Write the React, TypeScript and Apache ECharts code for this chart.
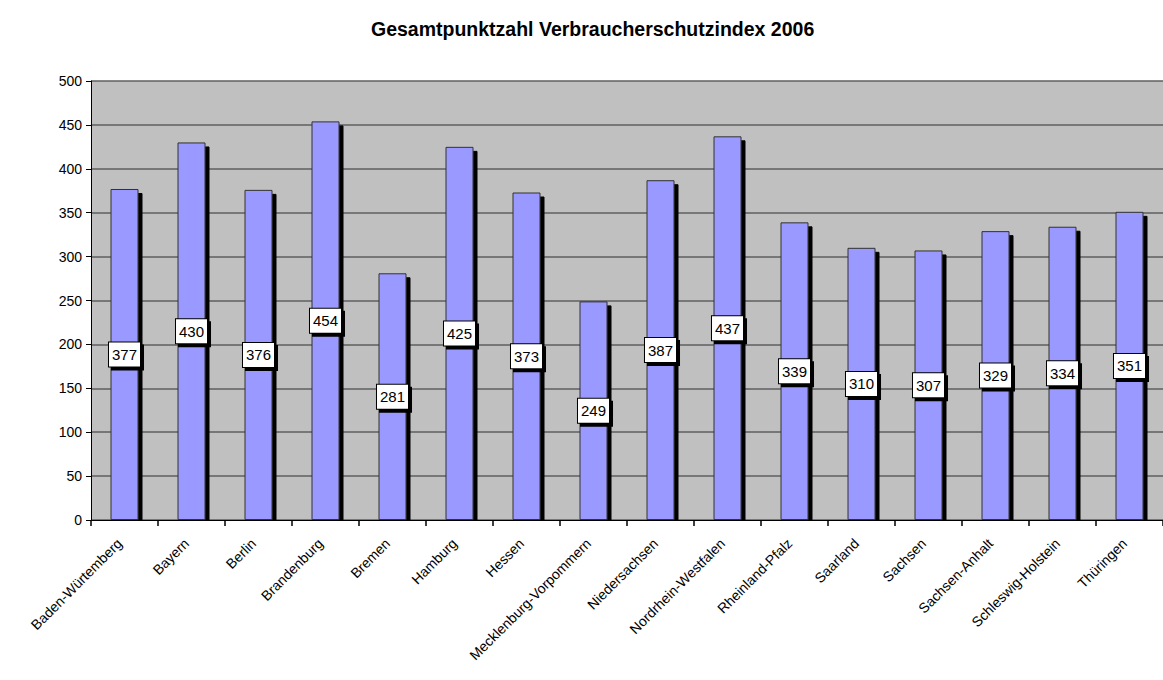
import React, { useEffect, useRef } from "react";
import * as echarts from "echarts";

const categories = [
  "Baden-Würtemberg",
  "Bayern",
  "Berlin",
  "Brandenburg",
  "Bremen",
  "Hamburg",
  "Hessen",
  "Mecklenburg-Vorpommern",
  "Niedersachsen",
  "Nordrhein-Westfalen",
  "Rheinland-Pfalz",
  "Saarland",
  "Sachsen",
  "Sachsen-Anhalt",
  "Schleswig-Holstein",
  "Thüringen",
];
const values = [377, 430, 376, 454, 281, 425, 373, 249, 387, 437, 339, 310, 307, 329, 334, 351];
const titleText = "Gesamtpunktzahl Verbraucherschutzindex 2006";

const FONT = "'Liberation Sans', Arial, sans-serif";

export default function App() {
  const ref = useRef<HTMLDivElement>(null);
  useEffect(() => {
    if (!ref.current) return;
    const chart = echarts.init(ref.current, null, { renderer: "svg" });
    chart.setOption({
      animation: false,
      backgroundColor: "#ffffff",
      title: {
        text: titleText,
        left: 366,
        top: 14,
        textStyle: { fontFamily: FONT, fontSize: 19.5, fontWeight: "bold", color: "#000" },
      },
      grid: { left: 91, top: 81, bottom: 160, right: -10, backgroundColor: "#C0C0C0", show: true, borderWidth: 0 },
      graphic: [
        {
          type: "rect",
          z: 5,
          silent: true,
          shape: { x: 92, y: 520.5, width: 1080, height: 4.5 },
          style: { fill: "#ffffff" },
        },
      ],
      xAxis: {
        type: "category",
        data: categories,
        boundaryGap: true,
        z: 10,
        axisLine: { lineStyle: { color: "#000", width: 1 } },
        axisTick: { show: true, interval: 0, alignWithLabel: false, length: 6, lineStyle: { color: "#000", width: 1.5 } },
        axisLabel: {
          rotate: 45,
          interval: 0,
          fontFamily: FONT,
          fontSize: 14,
          color: "#000",
          margin: 16,
          padding: [0, 7, 0, 0],
        },
      },
      yAxis: {
        type: "value",
        min: 0,
        max: 500,
        interval: 50,
        axisLine: { show: true, lineStyle: { color: "#000", width: 1 } },
        axisTick: { show: true, length: 5, lineStyle: { color: "#000" } },
        axisLabel: { fontFamily: FONT, fontSize: 14, color: "#000", margin: 9 },
        splitLine: { show: true, lineStyle: { color: "#5f5f5f", width: 1.5 } },
      },
      series: [
        {
          type: "bar",
          data: values,
          barWidth: 28,
          itemStyle: {
            color: "#9999FF",
            borderColor: "#333",
            borderWidth: 1,
            shadowColor: "#000",
            shadowBlur: 0,
            shadowOffsetX: 4,
            shadowOffsetY: 4,
          },
          label: {
            show: true,
            position: "inside",
            fontFamily: FONT,
            fontSize: 15,
            color: "#000",
            backgroundColor: "#fff",
            borderColor: "#000",
            borderWidth: 1,
            padding: [5, 3, 4, 3],
            shadowColor: "#000",
            shadowBlur: 0,
            shadowOffsetX: 3,
            shadowOffsetY: 3,
          },
        },
      ],
    });
    return () => chart.dispose();
  }, []);
  return <div ref={ref} style={{ position: "fixed", left: 0, top: 0, width: 1163, height: 680 }} />;
}
